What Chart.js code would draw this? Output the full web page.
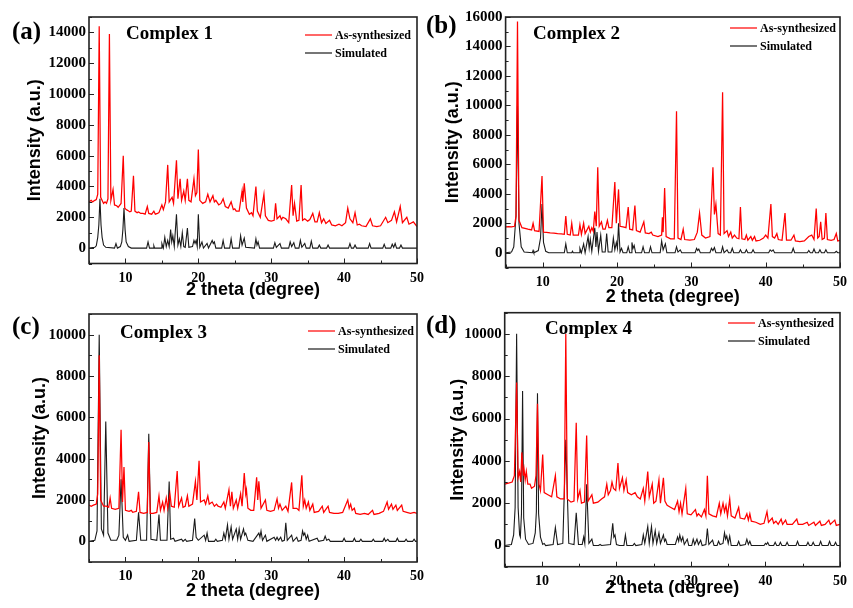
<!DOCTYPE html>
<html>
<head>
<meta charset="utf-8">
<script src="https://cdn.jsdelivr.net/npm/chart.js@4.4.0/dist/chart.umd.min.js"></script>
<style>
  html, body { margin: 0; padding: 0; background: #fff; }
  body { width: 853px; height: 608px; position: relative; overflow: hidden; }
  canvas { position: absolute; }
</style>
</head>
<body>
<canvas id="chartA" width="430" height="308" style="left:0;top:0"></canvas>
<canvas id="chartB" width="433" height="308" style="left:420px;top:0"></canvas>
<canvas id="chartC" width="430" height="308" style="left:0;top:300px"></canvas>
<canvas id="chartD" width="433" height="308" style="left:420px;top:300px"></canvas>
<script>
// Series names and axis text
const seriesLabels = ["As-synthesized", "Simulated"];
const xTitle = "2 theta (degree)";
const yTitle = "Intensity (a.u.)";

// Tick labels
const xTicks = [10, 20, 30, 40, 50];
const yTicks1 = [0, 2000, 4000, 6000, 8000, 10000, 12000, 14000];
const yTicks2 = [0, 2000, 4000, 6000, 8000, 10000, 12000, 14000, 16000];
const yTicks3 = [0, 2000, 4000, 6000, 8000, 10000];
const yTicks4 = [0, 2000, 4000, 6000, 8000, 10000];

// Complex 1 patterns [2theta, intensity]
const complex1Exp = [[5,3000],[5.3,3100],[5.5,3000],[5.8,3100],[6.0,3150],[6.2,3500],[6.4,14400],[6.6,3300],[7.0,2900],[7.2,3000],[7.4,2900],[7.6,3200],[7.8,13900],[8.0,3100],[8.3,3800],[8.5,2800],[8.8,2750],[9.0,2650],[9.4,2900],[9.7,6000],[9.9,2600],[10.1,2500],[10.3,2450],[10.6,2350],[10.8,2400],[11.1,4700],[11.3,2400],[11.6,2300],[11.8,2350],[12.1,2250],[12.4,2250],[12.7,2200],[13.0,2700],[13.2,2250],[13.6,2200],[13.9,2400],[14.1,2200],[14.4,2250],[14.6,2300],[15.0,2800],[15.2,2500],[15.5,3000],[15.8,5400],[16.0,3000],[16.4,3300],[16.6,2900],[17.0,5700],[17.2,3200],[17.5,4500],[17.7,3100],[18.0,3700],[18.2,3100],[18.5,4500],[18.7,3100],[19.0,3000],[19.4,4500],[19.6,3400],[19.8,3600],[20.0,6400],[20.2,3100],[20.6,2900],[21.0,3000],[21.3,3500],[21.6,3000],[22.0,3400],[22.2,3000],[22.4,3100],[22.8,2800],[23.1,2900],[23.4,3200],[23.7,2700],[24.1,2600],[24.5,3000],[24.8,2500],[25.0,2550],[25.2,2400],[25.6,2400],[26.0,3700],[26.1,3000],[26.3,4200],[26.6,2600],[27.0,2200],[27.3,2300],[27.5,2100],[27.9,4000],[28.1,2400],[28.5,2000],[29.0,3500],[29.2,2100],[29.6,1800],[30.0,1750],[30.4,1800],[30.6,2900],[30.8,1900],[31.2,2100],[31.4,1850],[31.6,2000],[32.0,1900],[32.4,1650],[32.8,4100],[33.0,2100],[33.2,2900],[33.5,1750],[33.8,1800],[34.1,4100],[34.3,1800],[34.6,1900],[35.0,1750],[35.3,1850],[35.7,2250],[36.0,1700],[36.3,1700],[36.6,2300],[36.9,1650],[37.2,1900],[37.5,1600],[38.0,1800],[38.3,1500],[38.8,1450],[39.3,1550],[39.7,1450],[40.2,1650],[40.5,2600],[40.8,1900],[41.2,1650],[41.5,2300],[41.8,1500],[42.1,1550],[42.4,1450],[43.0,1400],[43.6,1900],[43.9,1450],[44.5,1400],[45.0,1450],[45.7,2000],[46.0,1650],[46.5,1800],[46.9,2350],[47.2,1700],[47.7,2700],[48.0,1650],[48.6,2000],[48.9,1550],[49.5,1700],[50,1400]];
const complex1Sim = [[5,0],[5.8,50],[6.0,150],[6.2,700],[6.35,1500],[6.5,3200],[6.65,1500],[6.8,700],[7.0,200],[7.3,50],[8.5,0],[8.7,300],[8.9,0],[9.3,100],[9.5,400],[9.65,1200],[9.8,2600],[9.95,1200],[10.1,400],[10.4,100],[10.8,0],[12.9,0],[13.1,400],[13.3,0],[13.8,0],[13.9,150],[14.0,0],[14.9,0],[15.0,300],[15.2,0],[15.4,700],[15.6,100],[15.8,500],[16.0,100],[16.2,1200],[16.35,400],[16.5,800],[16.7,100],[17.0,2200],[17.2,200],[17.4,600],[17.6,100],[17.8,1000],[18.0,100],[18.2,50],[18.5,1300],[18.7,50],[19.2,100],[19.4,500],[19.55,300],[19.7,500],[19.85,100],[20.0,2200],[20.2,50],[20.5,400],[20.7,0],[21.2,300],[21.4,0],[21.9,500],[22.05,300],[22.2,400],[22.4,0],[23.2,0],[23.4,500],[23.6,0],[24.3,0],[24.5,600],[24.7,0],[25.6,0],[25.8,800],[26.0,200],[26.3,650],[26.5,50],[27.7,0],[27.9,600],[28.05,200],[28.2,400],[28.4,0],[30.3,0],[30.5,350],[30.7,50],[31.2,300],[31.4,0],[32.4,0],[32.6,400],[32.8,100],[33.1,350],[33.3,0],[33.8,0],[34.0,500],[34.2,50],[34.6,300],[34.8,0],[35.3,0],[35.5,450],[35.7,0],[36.4,0],[36.6,200],[36.8,0],[37.6,0],[37.8,200],[38.0,0],[40.6,0],[40.8,300],[41.0,0],[41.3,0],[41.5,200],[41.7,0],[43.3,0],[43.5,300],[43.7,0],[45.3,0],[45.5,250],[45.7,0],[46.4,0],[46.6,250],[46.8,50],[47.0,300],[47.2,0],[47.6,0],[47.8,200],[48.0,0],[50,0]];

// Complex 2 patterns
const complex2Exp = [[5,1750],[5.4,1780],[5.8,1750],[6.2,1800],[6.4,2500],[6.6,15700],[6.8,2200],[7.2,1700],[7.6,1650],[8.0,1600],[8.5,1550],[8.7,2000],[8.9,1500],[9.5,1450],[9.9,5200],[10.1,1400],[10.5,1380],[11.0,1350],[11.5,1330],[12.0,1300],[12.5,1280],[12.9,1250],[13.1,2500],[13.3,1250],[13.7,1200],[13.9,2000],[14.1,1200],[14.8,1200],[15.0,1900],[15.2,1250],[15.5,2000],[15.7,1300],[16.2,1800],[16.4,1400],[16.6,1700],[16.8,1450],[17.0,2800],[17.2,1800],[17.4,5800],[17.6,1800],[17.9,2100],[18.1,1600],[18.4,1600],[18.7,2200],[18.9,1700],[19.3,1700],[19.7,4800],[19.9,2000],[20.2,4300],[20.4,1800],[20.8,1750],[21.2,1700],[21.5,3100],[21.7,1600],[22.1,1550],[22.4,3200],[22.6,1500],[23.1,1400],[23.6,2100],[23.8,1350],[24.3,1300],[24.6,1400],[24.8,1200],[25.5,1100],[26.0,1200],[26.1,2400],[26.2,1400],[26.4,4400],[26.6,1100],[27.2,950],[27.7,950],[28.0,9600],[28.2,1000],[28.6,900],[28.9,1600],[29.1,900],[29.8,850],[30.4,900],[30.8,1400],[31.1,2700],[31.4,1200],[31.9,1000],[32.5,1100],[32.9,5800],[33.1,2600],[33.3,3300],[33.6,1300],[33.9,1200],[34.2,10900],[34.4,1300],[34.8,1500],[35.0,1100],[35.3,1400],[35.5,1000],[35.8,1200],[36.1,1000],[36.4,950],[36.6,3100],[36.8,950],[37.2,900],[37.4,1200],[37.6,850],[38.0,1100],[38.2,850],[38.5,1100],[38.7,800],[39.2,850],[39.7,1000],[40.0,1200],[40.3,1000],[40.7,3300],[40.9,1100],[41.2,1000],[41.5,1300],[41.7,900],[42.2,850],[42.6,2700],[42.8,850],[43.4,850],[43.8,1200],[44.0,800],[44.6,750],[45.2,800],[45.8,1100],[46.2,1200],[46.5,900],[46.8,3000],[47.0,1000],[47.2,1100],[47.4,2100],[47.6,900],[47.9,1000],[48.1,2700],[48.3,900],[48.8,850],[49.2,900],[49.5,1300],[49.7,800],[50,850]];
const complex2Sim = [[5,0],[5.8,50],[6.1,400],[6.4,2500],[6.6,10000],[6.8,2000],[7.1,400],[7.5,50],[8.6,0],[8.7,150],[8.8,0],[9.4,150],[9.7,1000],[9.9,3300],[10.1,700],[10.4,100],[10.8,0],[12.9,0],[13.1,600],[13.3,0],[13.9,0],[14.0,100],[14.1,0],[14.9,0],[15.0,300],[15.2,0],[15.5,600],[15.7,0],[16.1,1100],[16.25,300],[16.4,900],[16.6,100],[17.0,1700],[17.15,400],[17.3,1400],[17.5,100],[17.8,1200],[18.0,50],[18.4,50],[18.6,1300],[18.8,50],[19.3,50],[19.5,1000],[19.7,200],[19.9,700],[20.05,300],[20.2,2000],[20.4,50],[20.6,300],[20.8,0],[21.3,0],[21.5,400],[21.7,0],[21.9,0],[22.0,700],[22.15,300],[22.3,500],[22.5,0],[23.3,0],[23.5,400],[23.7,0],[24.3,0],[24.5,400],[24.7,0],[25.8,0],[26.0,800],[26.2,200],[26.5,600],[26.7,0],[27.8,0],[28.0,400],[28.2,50],[28.5,200],[28.7,0],[30.5,0],[30.7,300],[30.85,150],[31.0,250],[31.2,0],[32.5,0],[32.7,300],[32.9,150],[33.1,350],[33.3,0],[34.0,0],[34.2,400],[34.4,0],[34.8,200],[35.0,0],[35.3,0],[35.5,300],[35.7,0],[36.4,0],[36.6,200],[36.8,0],[37.2,0],[37.4,200],[37.6,0],[38.1,0],[38.3,200],[38.5,0],[40.4,0],[40.6,200],[40.8,100],[41.0,200],[41.2,0],[43.5,0],[43.7,300],[43.9,0],[45.6,0],[45.8,150],[46.0,0],[46.3,0],[46.5,250],[46.7,0],[47.1,0],[47.3,200],[47.5,0],[47.9,0],[48.1,200],[48.3,0],[49.3,0],[49.5,100],[49.7,0],[50,0]];

// Complex 3 patterns
const complex3Exp = [[5,1750],[5.3,1700],[5.6,1750],[6.0,1800],[6.2,2300],[6.4,9000],[6.6,2000],[7.0,1700],[7.4,1700],[7.7,1650],[7.9,2100],[8.1,1600],[8.6,1550],[9.1,1600],[9.4,5400],[9.6,1900],[9.8,3600],[10.0,1500],[10.5,1450],[10.8,1500],[11.0,1400],[11.5,1450],[11.8,2400],[12.0,1400],[12.5,1350],[13.0,1400],[13.2,4800],[13.4,1350],[13.8,1350],[14.3,1400],[14.6,2200],[14.8,1500],[15.1,1900],[15.3,1500],[15.6,2100],[15.8,1600],[16.1,2300],[16.3,1700],[16.7,1650],[17.1,3400],[17.3,1700],[17.7,2100],[17.9,1650],[18.2,1700],[18.5,2200],[18.7,1700],[19.2,1800],[19.6,2900],[19.8,2000],[20.1,3900],[20.3,1900],[20.8,2000],[21.0,1800],[21.3,2200],[21.5,1800],[21.9,1900],[22.2,1700],[22.5,1800],[22.7,1700],[23.1,1650],[23.5,1900],[23.7,1600],[24.2,2500],[24.4,1700],[24.6,2400],[24.8,1600],[25.2,2000],[25.4,1600],[25.8,2300],[26.0,1700],[26.3,3300],[26.5,2300],[26.6,2500],[26.8,1600],[27.2,1500],[27.6,1500],[28.0,3100],[28.15,2000],[28.3,2900],[28.6,1600],[29.2,2000],[29.4,1500],[29.9,1450],[30.4,1500],[30.8,2050],[31.0,1600],[31.2,1800],[31.5,1500],[32.0,1700],[32.3,1450],[32.8,2850],[33.0,1600],[33.5,1600],[33.8,1500],[34.2,3200],[34.4,1700],[34.6,2000],[34.8,1600],[35.1,1900],[35.3,1500],[35.7,1800],[35.9,1400],[36.5,1450],[37.0,1700],[37.2,1400],[37.8,1700],[38.0,1400],[38.6,1350],[39.2,1350],[39.8,1400],[40.5,2000],[40.7,1600],[40.9,1800],[41.1,1500],[41.4,1600],[41.6,1350],[42.2,1300],[42.8,1350],[43.3,1300],[43.9,1500],[44.1,1300],[44.8,1350],[45.4,1450],[45.9,1900],[46.1,1550],[46.5,1800],[46.7,1550],[47.1,1750],[47.3,1500],[47.9,1750],[48.1,1450],[48.6,1400],[49.1,1350],[49.6,1400],[50,1350]];
const complex3Sim = [[5,0],[5.8,50],[6.1,500],[6.4,10000],[6.7,600],[7.0,300],[7.3,5800],[7.6,400],[8.0,50],[8.8,50],[9.1,300],[9.4,3000],[9.7,200],[10.0,50],[10.3,300],[10.5,0],[11.5,50],[11.8,1400],[12.1,50],[12.9,50],[13.2,5200],[13.5,100],[14.3,50],[14.6,1300],[14.8,50],[15.7,50],[16.0,2900],[16.2,100],[16.6,150],[16.8,0],[17.7,100],[17.9,0],[18.2,100],[18.4,0],[19.2,50],[19.5,1100],[19.7,200],[20.0,50],[20.8,300],[21.0,50],[21.2,400],[21.4,0],[22.2,0],[22.4,100],[22.6,0],[23.3,50],[23.5,400],[23.7,100],[24.0,800],[24.2,100],[24.5,700],[24.7,100],[25.2,600],[25.4,100],[25.6,600],[25.8,100],[26.2,600],[26.35,300],[26.5,400],[26.8,50],[27.5,0],[28.3,400],[28.45,200],[28.6,500],[28.8,50],[29.2,300],[29.4,0],[30.4,200],[30.6,50],[30.8,200],[31.0,50],[31.3,200],[31.5,0],[31.8,50],[32.0,900],[32.2,50],[32.8,300],[33.0,0],[33.5,200],[33.7,0],[34.1,50],[34.3,500],[34.45,300],[34.6,400],[34.8,100],[35.0,300],[35.2,0],[36.3,150],[36.5,0],[37.2,50],[37.4,250],[37.6,50],[37.9,100],[38.1,0],[39.8,0],[40.0,150],[40.2,0],[41.2,0],[41.4,150],[41.6,0],[42.1,0],[42.3,100],[42.5,0],[43.8,0],[44.0,100],[44.2,0],[45.3,0],[45.5,150],[45.7,0],[46.0,100],[46.2,0],[47.1,0],[47.3,150],[47.5,0],[48.3,0],[48.5,100],[48.7,0],[49.4,0],[49.6,100],[49.8,0],[50,0]];

// Complex 4 patterns
const complex4Exp = [[5,2900],[5.5,2950],[6.0,3000],[6.3,3300],[6.6,7700],[6.8,3200],[7.0,3500],[7.15,3000],[7.3,4400],[7.5,3300],[7.6,3600],[7.75,3100],[7.9,3500],[8.1,2900],[8.4,2900],[8.6,2700],[9.0,2800],[9.2,3300],[9.4,6700],[9.6,2900],[9.8,2600],[10.1,4300],[10.3,2500],[10.8,2400],[11.3,2300],[11.8,3300],[12.0,2300],[12.5,2200],[13.0,2200],[13.2,10000],[13.4,2200],[13.9,2050],[14.3,2100],[14.6,5800],[14.8,2200],[15.1,2600],[15.3,2000],[15.7,2050],[16.0,5200],[16.2,2100],[16.7,2400],[16.9,2000],[17.5,2050],[18.0,2200],[18.4,2300],[18.7,2900],[18.9,2400],[19.2,2600],[19.4,3000],[19.6,2700],[19.9,2600],[20.2,3900],[20.4,2700],[20.8,3200],[21.0,2600],[21.3,3100],[21.5,2500],[22.0,2400],[22.5,2500],[22.8,2300],[23.2,2200],[23.6,2700],[23.8,2100],[24.2,3500],[24.4,2300],[24.8,2900],[25.0,2000],[25.3,2100],[25.7,3100],[25.9,2000],[26.3,3200],[26.5,2100],[26.8,1900],[27.3,1800],[27.8,1700],[28.2,2100],[28.4,1600],[28.6,2000],[28.8,1500],[29.3,2700],[29.5,1500],[30.0,1450],[30.6,1700],[30.8,1400],[31.0,1500],[31.4,1350],[31.8,1700],[32.0,1400],[32.2,3300],[32.4,1500],[32.9,1400],[33.4,1350],[33.8,2000],[34.0,1500],[34.3,2000],[34.5,1600],[34.7,1900],[34.9,1400],[35.2,2200],[35.4,1400],[35.9,1300],[36.4,1800],[36.6,1300],[37.2,1250],[37.5,1500],[37.7,1200],[37.9,1500],[38.1,1150],[38.7,1100],[39.3,1000],[39.8,1050],[40.2,1600],[40.4,1100],[40.9,1300],[41.1,1050],[41.4,1150],[41.7,1000],[42.1,1250],[42.3,1000],[42.7,1200],[42.9,1000],[43.6,1000],[44.2,1250],[44.4,1000],[45.0,1000],[45.6,1100],[45.8,950],[46.5,1100],[46.7,950],[47.3,1150],[47.5,950],[48.0,1000],[48.5,1200],[48.7,1000],[49.3,1200],[49.5,950],[50,1000]];
const complex4Sim = [[5,0],[5.9,50],[6.2,500],[6.4,1800],[6.6,10000],[6.8,1800],[7.0,500],[7.1,400],[7.25,1500],[7.4,7300],[7.55,1300],[7.8,300],[8.2,50],[8.8,100],[9.1,600],[9.25,1600],[9.4,7200],[9.55,1500],[9.8,400],[10.1,50],[10.3,100],[10.5,0],[11.5,50],[11.8,850],[12.1,50],[12.8,100],[13.2,5000],[13.6,100],[14.3,50],[14.6,1550],[14.9,50],[15.4,50],[15.6,400],[15.75,100],[16.0,2900],[16.3,100],[16.7,300],[16.9,0],[17.6,0],[17.8,50],[18.0,0],[19.2,50],[19.5,1050],[19.65,400],[19.8,500],[20.0,50],[20.4,0],[21.0,0],[21.2,500],[21.4,0],[22.2,0],[22.4,100],[22.6,0],[23.4,50],[23.6,500],[23.8,100],[24.2,900],[24.4,100],[24.7,900],[24.9,100],[25.2,700],[25.4,100],[25.7,600],[25.9,100],[26.3,500],[26.45,200],[26.6,300],[26.8,50],[27.9,50],[28.2,400],[28.35,200],[28.5,500],[28.7,200],[28.9,400],[29.1,50],[29.5,300],[29.7,0],[30.1,0],[30.3,300],[30.5,50],[30.8,300],[31.0,50],[31.3,250],[31.5,0],[32.0,50],[32.2,800],[32.4,50],[32.9,250],[33.1,0],[33.5,0],[33.7,200],[33.9,50],[34.3,100],[34.5,600],[34.65,300],[34.8,450],[35.0,100],[35.2,450],[35.4,0],[36.2,0],[36.4,200],[36.6,0],[37.3,50],[37.5,300],[37.7,50],[37.9,200],[38.1,0],[39.8,0],[40.0,100],[40.15,50],[40.3,150],[40.5,0],[41.1,0],[41.3,150],[41.5,0],[41.8,0],[42.0,150],[42.2,0],[42.7,0],[42.9,150],[43.1,0],[44.1,0],[44.3,200],[44.5,0],[45.5,0],[45.7,150],[45.9,0],[46.2,0],[46.4,150],[46.6,0],[47.2,0],[47.4,200],[47.6,0],[48.4,0],[48.6,200],[48.8,0],[49.2,0],[49.4,150],[49.6,0],[50,0]];

const SERIF = "'Liberation Serif', 'Times New Roman', serif";
const SANS = "'Liberation Sans', Arial, sans-serif";

// Frame, inward ticks, panel tag, complex name and legend
const panelDecor = {
  id: "panelDecor",
  afterDatasetsDraw(chart, args, o) {
    const { ctx, chartArea: a, scales: { x, y } } = chart;
    ctx.save();
    ctx.strokeStyle = "#222";
    ctx.lineWidth = 1;
    for (let v = y.min; v <= y.max; v += 1000) {
      const py = Math.round(y.getPixelForValue(v)) + 0.5;
      const len = v % 2000 === 0 ? 5 : 3;
      ctx.beginPath();
      ctx.moveTo(a.left, py);
      ctx.lineTo(a.left + len, py);
      ctx.stroke();
    }
    for (let v = x.min; v <= x.max; v += 5) {
      const px = Math.round(x.getPixelForValue(v)) + 0.5;
      const len = v % 10 === 0 ? 5 : 3;
      ctx.beginPath();
      ctx.moveTo(px, a.bottom);
      ctx.lineTo(px, a.bottom - len);
      ctx.stroke();
    }
    ctx.lineWidth = 1.6;
    ctx.strokeRect(a.left, a.top, a.right - a.left, a.bottom - a.top);

    ctx.fillStyle = "#000";
    ctx.textAlign = "left";
    ctx.textBaseline = "middle";
    ctx.font = "bold 25px " + SERIF;
    ctx.fillText(o.tag, o.tagX, o.tagY);
    ctx.font = "bold 19px " + SERIF;
    ctx.fillText(o.name, o.nameX, o.nameY);

    ctx.font = "bold 12px " + SERIF;
    chart.data.datasets.forEach((ds, i) => {
      const ly = o.legY + i * 18;
      ctx.strokeStyle = ds.borderColor;
      ctx.lineWidth = 1.2;
      ctx.beginPath();
      ctx.moveTo(o.legX, ly);
      ctx.lineTo(o.legX + 27, ly);
      ctx.stroke();
      ctx.fillText(ds.label, o.legX + 30, ly + 1);
    });
    ctx.restore();
  },
};

function makePanel(p) {
  const ctx = document.getElementById(p.canvas).getContext("2d");
  return new Chart(ctx, {
    type: "line",
    data: {
      datasets: [
        { label: seriesLabels[0], data: p.exp, borderColor: "#ff0000", borderWidth: 1.25, pointRadius: 0, tension: 0 },
        { label: seriesLabels[1], data: p.sim, borderColor: "#1a1a1a", borderWidth: 1.1, pointRadius: 0, tension: 0 },
      ],
    },
    options: {
      responsive: false,
      animation: false,
      devicePixelRatio: 1,
      layout: { padding: { top: p.padTop, right: p.padRight, left: 0, bottom: 0 } },
      plugins: {
        legend: { display: false },
        tooltip: { enabled: false },
        panelDecor: p.decor,
      },
      scales: {
        x: {
          type: "linear",
          min: 5,
          max: 50,
          afterBuildTicks: (s) => { s.ticks = xTicks.map((v) => ({ value: v })); },
          afterFit: (s) => { s.height = p.xAxisH; },
          grid: { display: false, drawTicks: false },
          border: { display: false },
          ticks: { autoSkip: false, maxRotation: 0, padding: 6, color: "#000", font: { family: SERIF, size: 14, weight: "bold" } },
          title: { display: true, text: xTitle, color: "#000", font: { family: SANS, size: 18, weight: "bold" }, padding: { top: 0, bottom: p.xTitlePad } },
        },
        y: {
          type: "linear",
          min: p.yMin,
          max: p.yMax,
          afterBuildTicks: (s) => { s.ticks = p.yTicks.map((v) => ({ value: v })); },
          afterFit: (s) => { s.width = p.yAxisW; },
          grid: { display: false, drawTicks: false },
          border: { display: false },
          ticks: { autoSkip: false, padding: 3, color: "#000", font: { family: SERIF, size: 15, weight: "bold" }, callback: (v) => String(v) },
          title: { display: true, text: yTitle, color: "#000", font: { family: SANS, size: 18, weight: "bold" }, padding: { top: p.yTitlePad, bottom: 0 } },
        },
      },
    },
    plugins: [panelDecor],
  });
}

document.addEventListener("DOMContentLoaded", () => {
  makePanel({
    canvas: "chartA", exp: complex1Exp, sim: complex1Sim, yTicks: yTicks1, yMin: -1000, yMax: 15000,
    padTop: 17, padRight: 7, xAxisH: 44.5, xTitlePad: 7, yAxisW: 89, yTitlePad: 24,
    decor: { tag: "(a)", tagX: 12, tagY: 33, name: "Complex 1", nameX: 126, nameY: 34, legX: 305, legY: 35 },
  });
  makePanel({
    canvas: "chartB", exp: complex2Exp, sim: complex2Sim, yTicks: yTicks2, yMin: -1000, yMax: 16000,
    padTop: 17, padRight: 10, xAxisH: 40.5, xTitlePad: 0, yAxisW: 85.6, yTitlePad: 22,
    decor: { tag: "(b)", tagX: 6, tagY: 27, name: "Complex 2", nameX: 113, nameY: 34, legX: 310, legY: 28 },
  });
  makePanel({
    canvas: "chartC", exp: complex3Exp, sim: complex3Sim, yTicks: yTicks3, yMin: -1000, yMax: 11000,
    padTop: 14, padRight: 7, xAxisH: 46, xTitlePad: 6, yAxisW: 89, yTitlePad: 29,
    decor: { tag: "(c)", tagX: 12, tagY: 28, name: "Complex 3", nameX: 120, nameY: 33, legX: 308, legY: 31 },
  });
  makePanel({
    canvas: "chartD", exp: complex4Exp, sim: complex4Sim, yTicks: yTicks4, yMin: -1000, yMax: 11000,
    padTop: 12.7, padRight: 7.3, xAxisH: 41.3, xTitlePad: 9, yAxisW: 84.7, yTitlePad: 27,
    decor: { tag: "(d)", tagX: 6, tagY: 27, name: "Complex 4", nameX: 125, nameY: 29, legX: 308, legY: 23 },
  });
});
</script>
</body>
</html>
